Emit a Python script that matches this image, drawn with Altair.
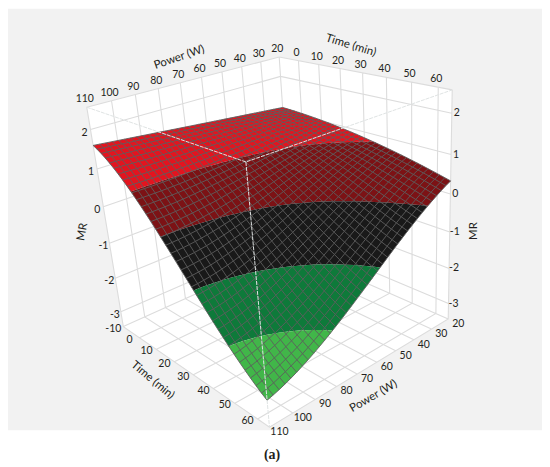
import numpy as np
import altair as alt

# ---- values -----------------------------------------------------------
time_knots = [-10, 5, 20, 35, 50, 65]
power_knots = [20, 38, 56, 74, 92, 110]
mr_p20 = [1.10, 1.04, 0.94, 0.78, 0.58, 0.33]
mr_p38 = [1.20, 1.04, 0.81, 0.49, 0.13, -0.20]
mr_p56 = [1.31, 0.99, 0.60, 0.04, -0.52, -0.96]
mr_p74 = [1.41, 0.95, 0.39, -0.40, -1.17, -1.70]
mr_p92 = [1.52, 0.94, 0.25, -0.73, -1.67, -2.30]
mr_p110 = [1.62, 0.95, 0.15, -0.92, -2.00, -2.75]
time_ticks = [0, 10, 20, 30, 40, 50, 60]
power_ticks = [20, 30, 40, 50, 60, 70, 80, 90, 100, 110]
mr_ticks = [-3, -2, -1, 0, 1, 2]
band_levels = [0.80, -0.03, -1.0, -1.95]
band_colors = ["#e3141f", "#7c1215", "#191919", "#0e7a3a", "#41b649"]

# ---- box extents and camera -------------------------------------------
T0, T1, P0, P1, Z0, Z1 = -10, 65, 20, 110, -3.45, 2.55
OFF = 8
CORNERS = [((0, 0, 1), (280, 56)), ((0, 1, 1), (87, 107)), ((1, 0, 1), (454, 90)),
           ((1, 1, 1), (247, 161)), ((0, 1, 0), (124, 327)), ((1, 0, 0), (450, 319)),
           ((1, 1, 0), (270, 428))]
A, b = [], []
for (u, v, w), (x, y) in CORNERS:
    A.append([u, v, w, 1, 0, 0, 0, 0, -x * u, -x * v, -x * w]); b.append(x)
    A.append([0, 0, 0, 0, u, v, w, 1, -y * u, -y * v, -y * w]); b.append(y)
cam = np.append(np.linalg.lstsq(np.array(A, float), np.array(b, float), rcond=None)[0], 1).reshape(3, 4)


def proj(t, p, z):
    u, v, w = (t - T0) / (T1 - T0), (p - P0) / (P1 - P0), (z - Z0) / (Z1 - Z0)
    q = cam @ np.array([u, v, w, 1.0])
    return [float(q[0] / q[2] - OFF), float(q[1] / q[2] - OFF)]


# The knot table above is what was read. It is only refined by a smooth
# polynomial so that the fine wire mesh of the surface can be drawn on it.
knots = np.array([mr_p20, mr_p38, mr_p56, mr_p74, mr_p92, mr_p110])
tn = (np.array(time_knots) - T0) / (T1 - T0)
pn = (np.array(power_knots) - P0) / (P1 - P0)
Vt = np.vander(tn, 4)
Vp = np.vander(pn, 4)
coef = np.linalg.pinv(Vp) @ knots @ np.linalg.pinv(Vt).T
N = 35
mt = np.linspace(T0, T1, N + 1)
mp = np.linspace(P0, P1, N + 1)
mz = np.vander((mp - P0) / (P1 - P0), 4) @ coef @ np.vander((mt - T0) / (T1 - T0), 4).T


def clip(poly, level, keep_above):
    out = []
    n = len(poly)
    for i in range(n):
        a, c = poly[i], poly[(i + 1) % n]
        ia = (a[2] >= level) == keep_above
        ic = (c[2] >= level) == keep_above
        if ia:
            out.append(a)
        if ia != ic:
            s = (level - a[2]) / (c[2] - a[2])
            out.append((a[0] + s * (c[0] - a[0]), a[1] + s * (c[1] - a[1]), level))
    return out


hi_edges = [99] + band_levels
lo_edges = band_levels + [-99]
band_polys = [[] for _ in band_colors]
for i in range(N):
    for j in range(N):
        cell = [(mt[j], mp[i], mz[i, j]), (mt[j + 1], mp[i], mz[i, j + 1]),
                (mt[j + 1], mp[i + 1], mz[i + 1, j + 1]), (mt[j], mp[i + 1], mz[i + 1, j])]
        for k in range(len(band_colors)):
            piece = clip(clip(cell, lo_edges[k], True), hi_edges[k], False)
            if len(piece) >= 3:
                ring = [proj(*c) for c in piece]
                band_polys[k].append([ring + [ring[0]]])

mesh = [[proj(mt[j], mp[i], mz[i, j]) for j in range(N + 1)] for i in range(N + 1)]
mesh += [[proj(mt[j], mp[i], mz[i, j]) for i in range(N + 1)] for j in range(N + 1)]


def geo(geom, **mark):
    data = alt.InlineData(values={"type": "FeatureCollection", "features": [
        {"type": "Feature", "properties": {}, "geometry": geom}]},
        format=alt.DataFormat(property="features", type="json"))
    return alt.Chart(data).mark_geoshape(**mark).project(type="identity", scale=1, translate=[0, 0])


def polygon(pts, fill):
    ring = list(pts) + [pts[0]]
    return geo({"type": "Polygon", "coordinates": [ring]}, fill=fill, strokeWidth=0)


def lines(ls, color, width, **kw):
    return geo({"type": "MultiLineString", "coordinates": ls}, filled=False, stroke=color, strokeWidth=width, **kw)


layers = []
# grey page panel
layers.append(polygon([[0, -2], [536, -2], [536, 423], [0, 423]], "#f2f2f2"))
# white walls and floor
layers.append(polygon([proj(T0, P0, Z1), proj(T0, P1, Z1), proj(T0, P1, Z0), proj(T0, P0, Z0)], "#ffffff"))
layers.append(polygon([proj(T0, P0, Z1), proj(T1, P0, Z1), proj(T1, P0, Z0), proj(T0, P0, Z0)], "#ffffff"))
layers.append(polygon([proj(T0, P0, Z0), proj(T1, P0, Z0), proj(T1, P1, Z0), proj(T0, P1, Z0)], "#ffffff"))
# grid
grid = []
for p_ in power_ticks:
    grid.append([proj(T0, p_, Z1), proj(T0, p_, Z0), proj(T1, p_, Z0)])
for t_ in [T0] + time_ticks:
    grid.append([proj(t_, P0, Z1), proj(t_, P0, Z0), proj(t_, P1, Z0)])
for z_ in mr_ticks:
    grid.append([proj(T0, P1, z_), proj(T0, P0, z_), proj(T1, P0, z_)])
grid.append([proj(T0, P1, Z1), proj(T0, P0, Z1), proj(T1, P0, Z1)])
grid.append([proj(T0, P1, Z1), proj(T0, P1, Z0), proj(T1, P1, Z0), proj(T1, P0, Z0), proj(T1, P0, Z1)])
layers.append(lines(grid, "#dcdcdc", 1.1))
# surface
for k, col in enumerate(band_colors):
    layers.append(geo({"type": "MultiPolygon", "coordinates": band_polys[k]}, fill=col, strokeWidth=0))
layers.append(lines(mesh, "#5e5e5e", 0.9))
# box edges through the surface
front_top = proj(T1, P1, Z1)
layers.append(lines([[proj(T0, P1, Z1), front_top, proj(T1, P0, Z1)], [front_top, proj(T1, P1, Z0)]],
                    "#dfe3e3", 1.0, strokeDash=[4, 1]))


def tick_layer(labels, pts, dx, dy):
    rows = [{"label": str(l), "px": q[0] + dx, "py": q[1] + dy} for l, q in zip(labels, pts)]
    return alt.Chart(alt.Data(values=rows)).mark_text(font="Lato", fontSize=10.5, color="#231f20").encode(
        x=alt.X("px:Q", scale=None), y=alt.Y("py:Q", scale=None), text="label:N")


layers.append(tick_layer(power_ticks, [proj(T0, p_, Z1) for p_ in power_ticks], -2, -8))
layers.append(tick_layer(time_ticks, [proj(t_, P0, Z1) for t_ in time_ticks], -2, -8))
layers.append(tick_layer(["-10"] + time_ticks, [proj(t_, P1, Z0) for t_ in [T0] + time_ticks], -10, 2))
layers.append(tick_layer(power_ticks, [proj(T1, p_, Z0) for p_ in power_ticks], 10, 5))
layers.append(tick_layer(mr_ticks, [proj(T0, P1, z_) for z_ in mr_ticks], -6, 3))
layers.append(tick_layer(mr_ticks, [proj(T1, P0, z_) for z_ in mr_ticks], 5, 0))


def title(text, x, y, angle, font="Lato", size=11.5, weight="normal"):
    return alt.Chart(alt.Data(values=[{"s": text}])).mark_text(
        font=font, fontSize=size, angle=angle, color="#231f20", fontWeight=weight).encode(
        x=alt.value(x - OFF), y=alt.value(y - OFF), text="s:N")


layers.append(title("Power (W)", 180, 57, 341))
layers.append(title("Time (min)", 352, 45, 17))
layers.append(title("Time (min)", 153, 381, 40))
layers.append(title("Power (W)", 375, 397, 330))
layers.append(title("MR", 83, 232, 280))
layers.append(title("MR", 476, 231, 270))
layers.append(title("(a)", 273, 456, 0, font="Liberation Serif", size=14, weight="bold"))

chart = alt.layer(*layers).properties(
    width=536, height=456, padding=0, autosize=alt.AutoSizeParams(type="none")
).configure_view(strokeWidth=0)
chart.save("out.html", embed_options={"renderer": "svg", "actions": False})
